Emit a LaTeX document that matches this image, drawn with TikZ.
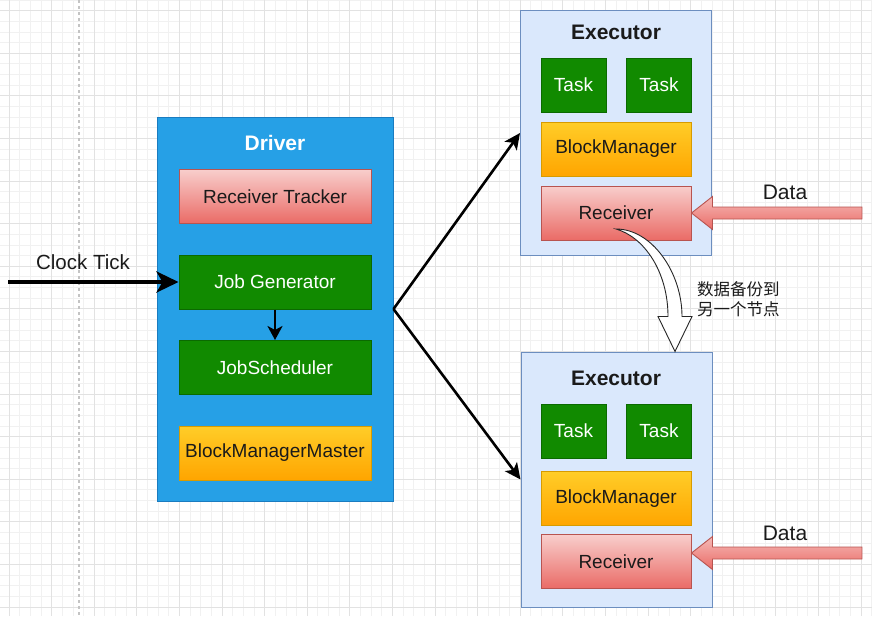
\documentclass[tikz,border=0pt]{standalone}
\usepackage{fontspec}
\setmainfont{Liberation Sans}
\newfontfamily\cjk{Noto Sans CJK SC}
\usetikzlibrary{arrows.meta,calc}

\definecolor{drvfill}{HTML}{26A0E6}
\definecolor{drvline}{HTML}{1A7CC0}
\definecolor{exfill}{HTML}{DAE8FC}
\definecolor{exline}{HTML}{6C8EBF}
\definecolor{gfill}{HTML}{118A00}
\definecolor{gline}{HTML}{0B6A00}
\definecolor{rtop}{HTML}{F8CECC}
\definecolor{rbot}{HTML}{EA6B66}
\definecolor{rline}{HTML}{B85450}
\definecolor{otop}{HTML}{FFCD28}
\definecolor{obot}{HTML}{FFA500}
\definecolor{oline}{HTML}{D79B00}
\definecolor{txt}{HTML}{1A1A1A}
\definecolor{gridminor}{HTML}{F1F1F1}
\definecolor{gridmajor}{HTML}{E2E2E2}
\definecolor{guide}{HTML}{C4C4C4}

\begin{document}
\begin{tikzpicture}[x=1pt,y=-1pt,
  boxfont/.style={font=\fontsize{19}{22}\selectfont},
  labelfont/.style={font=\fontsize{20.5}{24}\selectfont, text=txt},
  titlefont/.style={font=\fontsize{21}{24}\selectfont\bfseries},
  container/.style={minimum width=#1, inner sep=0pt, line width=1pt},
  drvbox/.style={container=236pt, draw=drvline, fill=drvfill},
  exbox/.style={container=191pt, draw=exline, fill=exfill},
  greenbox/.style={boxfont, draw=gline, fill=gfill, text=white, line width=1pt, inner sep=0pt},
  redbox/.style={boxfont, draw=rline, top color=rtop, bottom color=rbot, text=txt, line width=1pt, inner sep=0pt},
  orangebox/.style={boxfont, draw=oline, top color=otop, bottom color=obot, text=txt, line width=1pt, inner sep=0pt},
  wide/.style={minimum width=192pt, minimum height=54pt},
  mid/.style={minimum width=150pt, minimum height=54pt},
  small/.style={minimum width=65pt, minimum height=54pt},
  mainarrow/.style={line width=2.6pt, -{Stealth[length=16pt,width=15pt,inset=4pt]}},
  tickarrow/.style={line width=4pt, -{Stealth[length=22pt,width=21pt,inset=6pt]}},
  downarrow/.style={line width=2.8pt, -{Stealth[length=14pt,width=15pt,inset=4pt]}},
  dataarrow/.style={draw=rline, top color=rtop!80!rbot, bottom color=rbot, line width=0.9pt, line join=miter},
  copyarrow/.style={draw=black!85, fill=white, line width=0.9pt, line join=miter}
]
% canvas
\fill[white] (0,0) rectangle (872,616);
\useasboundingbox (0,0) rectangle (872,616);

% background grid
\foreach \i in {0,...,81} {
  \draw[gridminor, line width=0.8pt] ({9+10.65*\i},0) -- ({9+10.65*\i},616);
}
\foreach \j in {0,...,58} {
  \draw[gridminor, line width=0.8pt] (0,{-0.05+10.65*\j}) -- (872,{-0.05+10.65*\j});
}
\foreach \k in {0,...,20} {
  \draw[gridmajor, line width=0.9pt] ({9+42.6*\k},0) -- ({9+42.6*\k},616);
}
\foreach \k in {0,...,14} {
  \draw[gridmajor, line width=0.9pt] (0,{10.6+42.6*\k}) -- (872,{10.6+42.6*\k});
}
% page guide
\draw[guide, line width=1.2pt, dash pattern=on 3pt off 3pt] (79,0) -- (79,616);

% driver
\node[drvbox, minimum height=384pt] (driver) at (275,309) {};
\node[titlefont, text=white] (drvtitle) at (275,143) {Driver};
\node[redbox, wide] (rt) at (275,196.5) {Receiver Tracker};
\node[greenbox, wide] (jg) at (275,282) {Job Generator};
\node[greenbox, wide] (js) at (275,367.5) {JobScheduler};
\node[orangebox, wide] (bmm) at (275,453) {BlockManagerMaster};

% first executor
\node[exbox, minimum height=245pt] (e1) at (616,133) {};
\node[titlefont, text=txt] (e1title) at (616,32) {Executor};
\node[greenbox, small] (t11) at (573.5,85) {Task};
\node[greenbox, small] (t12) at (659,85) {Task};
\node[orangebox, mid] (bm1) at (616,149) {BlockManager};
\node[redbox, mid] (r1) at (616,213) {Receiver};

% second executor
\node[exbox, minimum height=255pt] (e2) at (616.5,479.5) {};
\node[titlefont, text=txt] (e2title) at (616,378) {Executor};
\node[greenbox, small] (t21) at (573.5,431) {Task};
\node[greenbox, small] (t22) at (659,431) {Task};
\node[orangebox, mid] (bm2) at (616,498.5) {BlockManager};
\node[redbox, mid] (r2) at (616,561.5) {Receiver};

% clock input
\coordinate (clk) at (8,282);
\node[labelfont] (clklabel) at (83,262) {Clock Tick};
\draw[tickarrow] (clk) -- (jg.west);
\draw[downarrow] (jg.south) -- (js.north);

% driver to executors
\draw[mainarrow] (driver.east) -- (e1.west);
\draw[mainarrow] (driver.east) -- (e2.west);

% incoming data
\coordinate (d1) at (862,213);
\coordinate (d2) at (862,553);
\coordinate (r2in) at ($(r2.east)+(0,-8.5)$);
\draw[dataarrow] (r1.east) -- ++(21,-16.5) -- ++(0,10.5) -- ($(d1)+(0,-6)$) -- ($(d1)+(0,6)$)
  -- ($(r1.east)+(21,6)$) -- ++(0,10.5) -- cycle;
\draw[dataarrow] (r2in) -- ++(21,-16.5) -- ++(0,10.5) -- ($(d2)+(0,-6)$) -- ($(d2)+(0,6)$)
  -- ($(r2in)+(21,6)$) -- ++(0,10.5) -- cycle;
\node[labelfont, font=\fontsize{21}{24}\selectfont] (data1) at (785,192) {Data};
\node[labelfont, font=\fontsize{21}{24}\selectfont] (data2) at (785,533) {Data};

% replication to the other node
\coordinate (bs) at ($(r1.center)+(0,16)$);
\coordinate (bt) at ($(e2.north)+(58.5,0)$);
\draw[copyarrow] (bs) .. controls +(36,0) and +(0,-44) .. ($(bt)+(7,-35)$)
  -- ($(bt)+(17,-35)$) -- (bt) -- ($(bt)+(-17,-35)$) -- ($(bt)+(-7,-35)$)
  .. controls +(0,-45) and +(28,8) .. (bs) -- cycle;
\node[anchor=west, align=left, text=txt, font=\cjk\fontsize{16.5}{20}\selectfont, inner sep=0pt] (note) at (697,299) {数据备份到\\另一个节点};
\end{tikzpicture}
\end{document}
